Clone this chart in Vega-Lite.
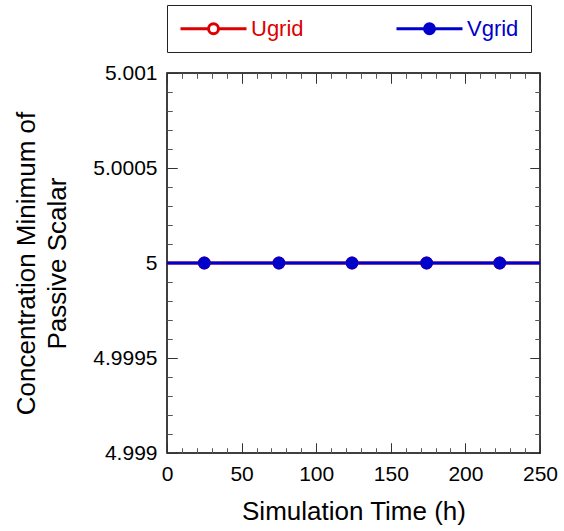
{
  "$schema": "https://vega.github.io/schema/vega-lite/v6.json",
  "width": 373,
  "height": 380,
  "autosize": {"type": "none"},
  "padding": {"left": 167, "top": 73, "right": 24, "bottom": 78},
  "background": "white",
  "config": {
    "view": {"stroke": "#000000", "strokeWidth": 1.5},
    "font": "Liberation Sans",
    "axis": {
      "labelFont": "Liberation Sans",
      "labelFontSize": 21,
      "labelColor": "#000000",
      "titleFont": "Liberation Sans",
      "titleFontSize": 26,
      "titleFontWeight": "normal",
      "titleColor": "#000000"
    },
    "legend": {
      "title": null,
      "orient": "none",
      "legendX": 0,
      "legendY": -68,
      "direction": "horizontal",
      "symbolType": "M-1,0H1.8M2.8,0H5.6M2.8,0A0.5,0.5,0,1,1,1.8,0A0.5,0.5,0,1,1,2.8,0Z",
      "symbolSize": 400,
      "symbolStrokeWidth": 3,
      "symbolOpacity": 1,
      "labelFont": "Liberation Sans",
      "labelFontSize": 22,
      "labelOffset": 49,
      "columnPadding": 86,
      "padding": 12,
      "strokeColor": "#222222",
      "fillColor": "#ffffff"
    }
  },
  "data": {
    "values": [
      {"series": "Ugrid", "t": 0, "value": 5},
      {"series": "Ugrid", "t": 25, "value": 5},
      {"series": "Ugrid", "t": 75, "value": 5},
      {"series": "Ugrid", "t": 124, "value": 5},
      {"series": "Ugrid", "t": 174, "value": 5},
      {"series": "Ugrid", "t": 223, "value": 5},
      {"series": "Ugrid", "t": 250, "value": 5},
      {"series": "Vgrid", "t": 0, "value": 5},
      {"series": "Vgrid", "t": 25, "value": 5},
      {"series": "Vgrid", "t": 75, "value": 5},
      {"series": "Vgrid", "t": 124, "value": 5},
      {"series": "Vgrid", "t": 174, "value": 5},
      {"series": "Vgrid", "t": 223, "value": 5},
      {"series": "Vgrid", "t": 250, "value": 5}
    ]
  },
  "layer": [
    {
      "mark": {"type": "line", "strokeOpacity": 0},
      "encoding": {
        "x": {
          "field": "t", "type": "quantitative",
          "scale": {"domain": [0, 250], "nice": false},
          "axis": {"orient": "top", "labels": false, "title": null, "domain": false, "grid": false, "values": [0, 50, 100, 150, 200, 250], "tickSize": -10, "tickColor": "#333333", "tickWidth": 1}
        },
        "y": {
          "field": "value", "type": "quantitative",
          "scale": {"domain": [4.999, 5.001], "nice": false, "zero": false},
          "axis": {"orient": "right", "labels": false, "title": null, "domain": false, "grid": false, "values": [4.999, 4.9995, 5, 5.0005, 5.001], "tickSize": -10, "tickColor": "#333333", "tickWidth": 1}
        }
      }
    },
    {
      "mark": {"type": "line", "strokeOpacity": 0},
      "encoding": {
        "x": {
          "field": "t", "type": "quantitative",
          "scale": {"domain": [0, 250], "nice": false},
          "axis": {"orient": "top", "labels": false, "title": null, "domain": false, "grid": false, "values": [10,20,30,40,60,70,80,90,110,120,130,140,160,170,180,190,210,220,230,240], "tickSize": -5, "tickColor": "#555555", "tickWidth": 1}
        },
        "y": {
          "field": "value", "type": "quantitative",
          "scale": {"domain": [4.999, 5.001], "nice": false, "zero": false},
          "axis": {"orient": "right", "labels": false, "title": null, "domain": false, "grid": false, "values": [4.9991,4.9992,4.9993,4.9994,4.9996,4.9997,4.9998,4.9999,5.0001,5.0002,5.0003,5.0004,5.0006,5.0007,5.0008,5.0009], "tickSize": -5, "tickColor": "#555555", "tickWidth": 1}
        }
      }
    },
    {
      "mark": {"type": "line", "strokeOpacity": 0},
      "encoding": {
        "x": {
          "field": "t", "type": "quantitative",
          "scale": {"domain": [0, 250], "nice": false},
          "axis": {"orient": "bottom", "labels": false, "title": null, "domain": false, "grid": true, "gridColor": "#555555", "gridWidth": 1, "gridOpacity": 1, "gridDash": [5, 370, 5, 5], "values": [10,20,30,40,60,70,80,90,110,120,130,140,160,170,180,190,210,220,230,240], "tickSize": -5, "tickColor": "#555555", "tickWidth": 1}
        },
        "y": {
          "field": "value", "type": "quantitative",
          "scale": {"domain": [4.999, 5.001], "nice": false, "zero": false},
          "axis": {"orient": "left", "labels": false, "title": null, "domain": false, "grid": true, "gridColor": "#555555", "gridWidth": 1, "gridOpacity": 1, "gridDash": [5, 363, 5, 5], "values": [4.9991,4.9992,4.9993,4.9994,4.9996,4.9997,4.9998,4.9999,5.0001,5.0002,5.0003,5.0004,5.0006,5.0007,5.0008,5.0009], "tickSize": -5, "tickColor": "#555555", "tickWidth": 1}
        }
      }
    },
    {
      "mark": {"type": "line", "strokeWidth": 3},
      "encoding": {
        "x": {
          "field": "t", "type": "quantitative",
          "scale": {"domain": [0, 250], "nice": false},
          "axis": {
            "orient": "bottom",
            "title": "Simulation Time (h)",
            "titlePadding": 14,
            "labelPadding": 20,
            "labelFlush": false,
            "domain": false,
            "grid": true, "gridColor": "#333333", "gridWidth": 1, "gridOpacity": 1, "gridDash": [10, 360, 10, 10],
            "values": [0, 50, 100, 150, 200, 250],
            "tickSize": -10,
            "tickColor": "#333333",
            "tickWidth": 1
          }
        },
        "y": {
          "field": "value", "type": "quantitative",
          "scale": {"domain": [4.999, 5.001], "nice": false, "zero": false},
          "axis": {
            "orient": "left",
            "title": ["Concentration Minimum of", "Passive Scalar"],
            "titleLineHeight": 31,
            "titlePadding": 22,
            "labelPadding": 20,
            "labelFlush": false,
            "domain": false,
            "grid": true, "gridColor": "#333333", "gridWidth": 1, "gridOpacity": 1, "gridDash": [10, 353, 10, 10],
            "values": [4.999, 4.9995, 5, 5.0005, 5.001],
            "format": ".4~f",
            "tickSize": -10,
            "tickColor": "#333333",
            "tickWidth": 1
          }
        },
        "stroke": {
          "field": "series", "type": "nominal",
          "scale": {"domain": ["Ugrid", "Vgrid"], "range": ["#dd0000", "#0000cc"]},
          "legend": {
            "encode": {"labels": {"update": {"fill": {"signal": "datum.value === 'Ugrid' ? '#dd0000' : '#0000cc'"}}}}
          }
        }
      }
    },
    {
      "transform": [{"filter": "datum.t > 0 && datum.t < 250"}],
      "mark": {"type": "point", "shape": "circle", "size": 130, "strokeWidth": 1.5, "opacity": 1},
      "encoding": {
        "x": {"field": "t", "type": "quantitative", "scale": {"domain": [0, 250], "nice": false}, "axis": null},
        "y": {"field": "value", "type": "quantitative", "scale": {"domain": [4.999, 5.001], "nice": false, "zero": false}, "axis": null},
        "stroke": {
          "field": "series", "type": "nominal",
          "scale": {"domain": ["Ugrid", "Vgrid"], "range": ["#dd0000", "#0000cc"]},
          "legend": {
            "encode": {"labels": {"update": {"fill": {"signal": "datum.value === 'Ugrid' ? '#dd0000' : '#0000cc'"}}}}
          }
        },
        "fill": {
          "field": "series", "type": "nominal",
          "scale": {"domain": ["Ugrid", "Vgrid"], "range": ["#ffffff", "#0000cc"]},
          "legend": {
            "encode": {"labels": {"update": {"fill": {"signal": "datum.value === 'Ugrid' ? '#dd0000' : '#0000cc'"}}}}
          }
        }
      }
    }
  ],
  "resolve": {"axis": {"x": "independent", "y": "independent"}}
}
